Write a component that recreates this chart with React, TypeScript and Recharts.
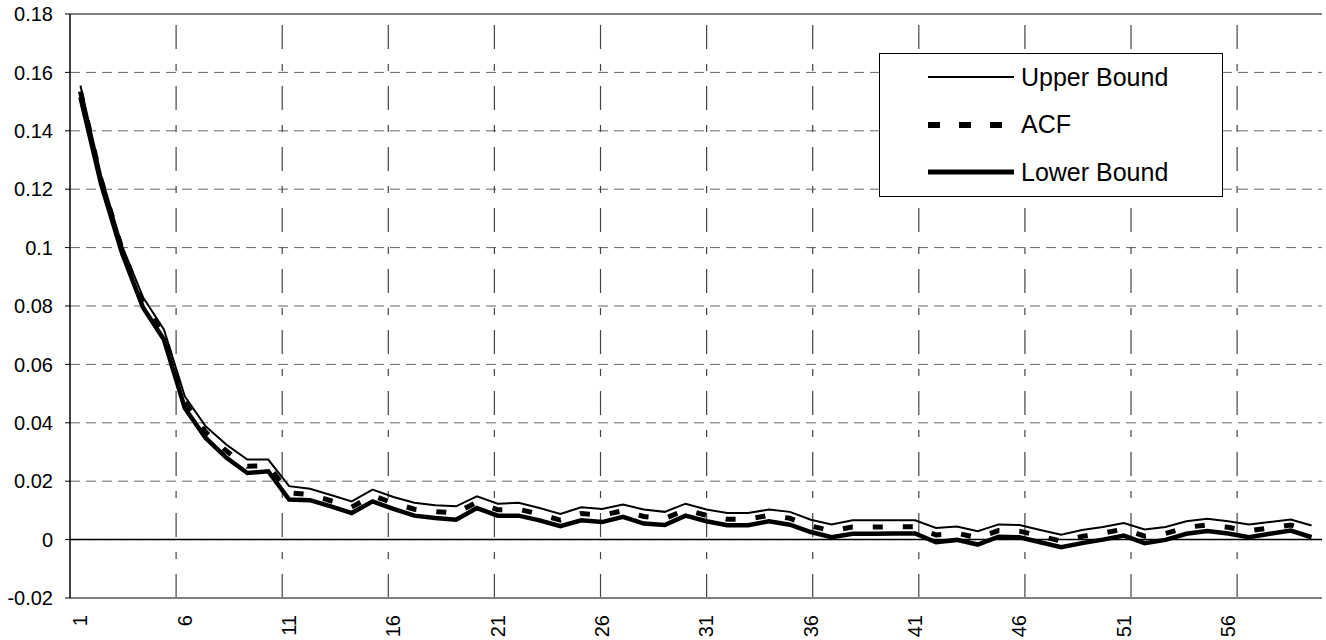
import React from "react";
import {
  LineChart,
  Line,
  XAxis,
  YAxis,
  CartesianGrid,
  ReferenceLine,
} from "recharts";

const LAGS = Array.from({ length: 60 }, (_, i) => i + 1);

const UPPER = [
  0.1555, 0.1245, 0.1005, 0.083, 0.072, 0.0491, 0.0388, 0.0325, 0.0274, 0.0274,
  0.0183, 0.0174, 0.0153, 0.0131, 0.0171, 0.0146, 0.0126, 0.0118, 0.0114, 0.0148,
  0.0123, 0.0126, 0.0108, 0.0088, 0.0111, 0.0105, 0.012, 0.0103, 0.0095, 0.0123,
  0.0103, 0.0091, 0.0091, 0.0103, 0.0095, 0.0068, 0.0052, 0.0066, 0.0066, 0.0066,
  0.0066, 0.004, 0.0045, 0.0029, 0.0052, 0.005, 0.0033, 0.0017, 0.0033, 0.0043,
  0.0057, 0.0035, 0.0043, 0.0063, 0.0071, 0.0063, 0.0052, 0.006, 0.0069, 0.0048,
];

const ACF = [
  0.1535, 0.123, 0.0993, 0.0812, 0.0702, 0.0471, 0.0368, 0.0303, 0.0251, 0.0254,
  0.016, 0.0154, 0.0133, 0.0111, 0.0151, 0.0125, 0.0104, 0.0096, 0.0091, 0.0128,
  0.0102, 0.0104, 0.0087, 0.0067, 0.0089, 0.0083, 0.0099, 0.0079, 0.0072, 0.0102,
  0.0083, 0.007, 0.007, 0.0083, 0.0073, 0.0047, 0.003, 0.0043, 0.0043, 0.0044,
  0.0044, 0.0016, 0.0022, 0.0006, 0.0031, 0.0029, 0.0012, -0.0005, 0.0011, 0.0022,
  0.0036, 0.0012, 0.0021, 0.0042, 0.005, 0.0042, 0.003, 0.004, 0.005, 0.0028,
];

const LOWER = [
  0.1515, 0.1215, 0.098, 0.0795, 0.0685, 0.0451, 0.0348, 0.028, 0.0228, 0.0234,
  0.0137, 0.0135, 0.0114, 0.0091, 0.0131, 0.0105, 0.0082, 0.0074, 0.0068, 0.0108,
  0.0082, 0.0082, 0.0066, 0.0046, 0.0066, 0.006, 0.0078, 0.0055, 0.005, 0.0082,
  0.0063, 0.0049, 0.0049, 0.0063, 0.0051, 0.0026, 0.0008, 0.002, 0.002, 0.0021,
  0.0021, -0.0009, -0.0001, -0.0017, 0.001, 0.0008, -0.0009, -0.0026, -0.0012, 0.0,
  0.0014, -0.0012, -0.0001, 0.002, 0.0029, 0.0021, 0.0008, 0.002, 0.0031, 0.0008,
];

const Y_TICKS = [-0.02, 0, 0.02, 0.04, 0.06, 0.08, 0.1, 0.12, 0.14, 0.16, 0.18];
const X_BOUNDARIES = [5, 10, 15, 20, 25, 30, 35, 40, 45, 50, 55];

const data = LAGS.map((lag, i) => ({
  lag,
  upper: UPPER[i],
  acf: ACF[i],
  lower: LOWER[i],
}));

const FONT = "'Liberation Sans', Arial, sans-serif";

const XTick = (props: any) => {
  const { x, y, payload } = props;
  return (
    <text
      x={x}
      y={y}
      transform={`rotate(-90, ${x}, ${y})`}
      textAnchor="end"
      dy="0.35em"
      fontSize={20}
      fontFamily={FONT}
      fill="#000"
    >
      {payload.value}
    </text>
  );
};

const LEGEND_ROWS = [
  { label: "Upper Bound", width: 2, dash: undefined as string | undefined },
  { label: "ACF", width: 6, dash: "12 19" },
  { label: "Lower Bound", width: 5, dash: undefined },
];

const LegendBox = () => (
  <div
    style={{
      position: "absolute",
      left: 879,
      top: 53,
      width: 344,
      height: 144,
      boxSizing: "border-box",
      border: "1.5px solid #000",
      background: "#fff",
      fontFamily: FONT,
    }}
  >
    {LEGEND_ROWS.map((r, i) => (
      <div
        key={r.label}
        style={{
          position: "absolute",
          left: 47,
          top: 23 + i * 47.5 - 16,
          height: 32,
          display: "flex",
          alignItems: "center",
        }}
      >
        <svg width={88} height={32} style={{ display: "block" }}>
          <line
            x1={1}
            y1={16}
            x2={87}
            y2={16}
            stroke="#000"
            strokeWidth={r.width}
            strokeDasharray={r.dash}
          />
        </svg>
        <span style={{ fontSize: 25, marginLeft: 6, color: "#000", whiteSpace: "nowrap" }}>
          {r.label}
        </span>
      </div>
    ))}
  </div>
);

export default function App() {
  return (
    <div style={{ position: "absolute", left: 0, top: 0, width: 1326, height: 640, background: "#fff" }}>
      <LineChart
        width={1326}
        height={640}
        data={data}
        margin={{ top: 14, right: 4, left: 0, bottom: 0 }}
      >
        <CartesianGrid
          vertical={false}
          stroke="#666"
          strokeDasharray="10 6"
          strokeWidth={1}
        />
        <XAxis
          dataKey="lag"
          type="category"
          interval={4}
          height={42}
          padding={{ left: 10.43, right: 10.43 }}
          tickLine={false}
          tickSize={0}
          tickMargin={17}
          axisLine={{ stroke: "#808080", strokeWidth: 2 }}
          tick={<XTick />}
        />
        <XAxis xAxisId="b" type="number" domain={[0, 60]} allowDataOverflow hide />
        <YAxis
          width={70}
          domain={[-0.02, 0.18]}
          ticks={Y_TICKS}
          interval={0}
          allowDataOverflow
          tickSize={5}
          tickMargin={12}
          axisLine={{ stroke: "#000", strokeWidth: 1.5 }}
          tickLine={{ stroke: "#000" }}
          tick={{ fontSize: 20, fill: "#000", fontFamily: FONT }}
        />
        {X_BOUNDARIES.map((b) => (
          <ReferenceLine
            key={b}
            xAxisId="b"
            x={b}
            stroke="#444"
            strokeWidth={1.2}
            strokeDasharray="24 15 7 15"
          />
        ))}
        <ReferenceLine xAxisId="b" x={60} stroke="#808080" strokeWidth={2} />
        <ReferenceLine y={0.18} stroke="#808080" strokeWidth={2} />
        <ReferenceLine y={0} stroke="#000" strokeWidth={1.5} />
        <Line
          dataKey="upper"
          name="Upper Bound"
          stroke="#000"
          strokeWidth={2}
          dot={false}
          isAnimationActive={false}
        />
        <Line
          dataKey="lower"
          name="Lower Bound"
          stroke="#000"
          strokeWidth={4.5}
          dot={false}
          isAnimationActive={false}
        />
        <Line
          dataKey="acf"
          name="ACF"
          stroke="#000"
          strokeWidth={5}
          strokeDasharray="10 20"
          dot={false}
          isAnimationActive={false}
        />
      </LineChart>
      <LegendBox />
    </div>
  );
}
